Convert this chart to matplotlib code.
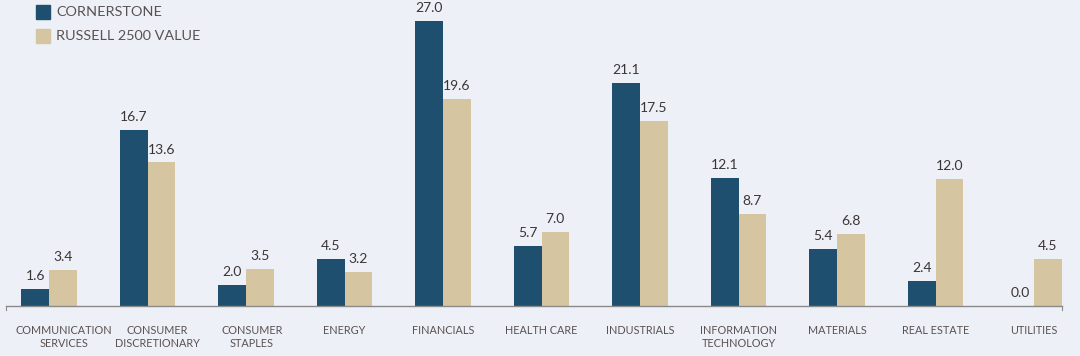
import matplotlib
matplotlib.use("Agg")
import matplotlib.pyplot as plt
import matplotlib.transforms as mtransforms
import numpy as np
from matplotlib.patches import Rectangle

categories = ["COMMUNICATION\nSERVICES", "CONSUMER\nDISCRETIONARY", "CONSUMER\nSTAPLES",
              "ENERGY", "FINANCIALS", "HEALTH CARE", "INDUSTRIALS",
              "INFORMATION\nTECHNOLOGY", "MATERIALS", "REAL ESTATE", "UTILITIES"]
cornerstone = [1.6, 16.7, 2.0, 4.5, 27.0, 5.7, 21.1, 12.1, 5.4, 2.4, 0.0]
russell = [3.4, 13.6, 3.5, 3.2, 19.6, 7.0, 17.5, 8.7, 6.8, 12.0, 4.5]
series_names = ["CORNERSTONE", "RUSSELL 2500 VALUE"]

dark = "#1e4f6f"
light = "#d5c6a1"
bg = "#edf0f7"
txt = "#5a5252"

plt.rcParams['font.family'] = ['Lato', 'DejaVu Sans']

fig = plt.figure(figsize=(10.8, 3.56), dpi=100, facecolor=bg)
ax = fig.add_axes([6/1080, 50/356, 1056/1080, 306/356])
ax.set_facecolor(bg)

x = np.arange(len(categories))
w = 0.28
b1 = ax.bar(x - w/2, cornerstone, w, color=dark)
b2 = ax.bar(x + w/2, russell, w, color=light)

for bars, vals in ((b1, cornerstone), (b2, russell)):
    for r, v in zip(bars, vals):
        ax.annotate(f"{v:.1f}", (r.get_x() + r.get_width()/2, v), xytext=(0, 5),
                    textcoords="offset points", ha="center", va="bottom",
                    fontsize=10, color="#3a3535")

ax.set_xlim(-0.437, 10.284)
ax.set_ylim(0, 29.0)
for s in ["top", "right", "left"]:
    ax.spines[s].set_visible(False)
ax.spines["bottom"].set_color("#8a8a8a")
ax.spines["bottom"].set_linewidth(1.0)
ax.set_yticks([])
ax.set_xticks(x)
ax.set_xticklabels(categories, fontsize=7.8, color=txt, linespacing=1.2)
ax.tick_params(axis="x", length=0, pad=14)

# the first labels sit a little right of their group centre in the reference
shifts_px = [15, 10, 6]
for lbl, dx in zip(ax.get_xticklabels(), shifts_px):
    lbl.set_transform(lbl.get_transform() +
                      mtransforms.ScaledTranslation(dx/100, 0, fig.dpi_scale_trans))

# small end ticks on the axis line
for xe in (0.0, 1.0):
    ax.plot([xe, xe], [0, -0.012], transform=ax.transAxes, color="#8a8a8a",
            lw=0.8, clip_on=False)

# legend
for i, (name, col) in enumerate(zip(series_names, [dark, light])):
    y0 = 356 - 5 - i*24
    fig.patches.append(Rectangle((36/1080, (y0-14)/356), 14/1080, 14/356,
                                 transform=fig.transFigure, color=col))
    fig.text(56/1080, (y0-7)/356, name, fontsize=10.4, color=txt, va="center", ha="left")

fig.savefig("out.png", dpi=100, facecolor=bg)
